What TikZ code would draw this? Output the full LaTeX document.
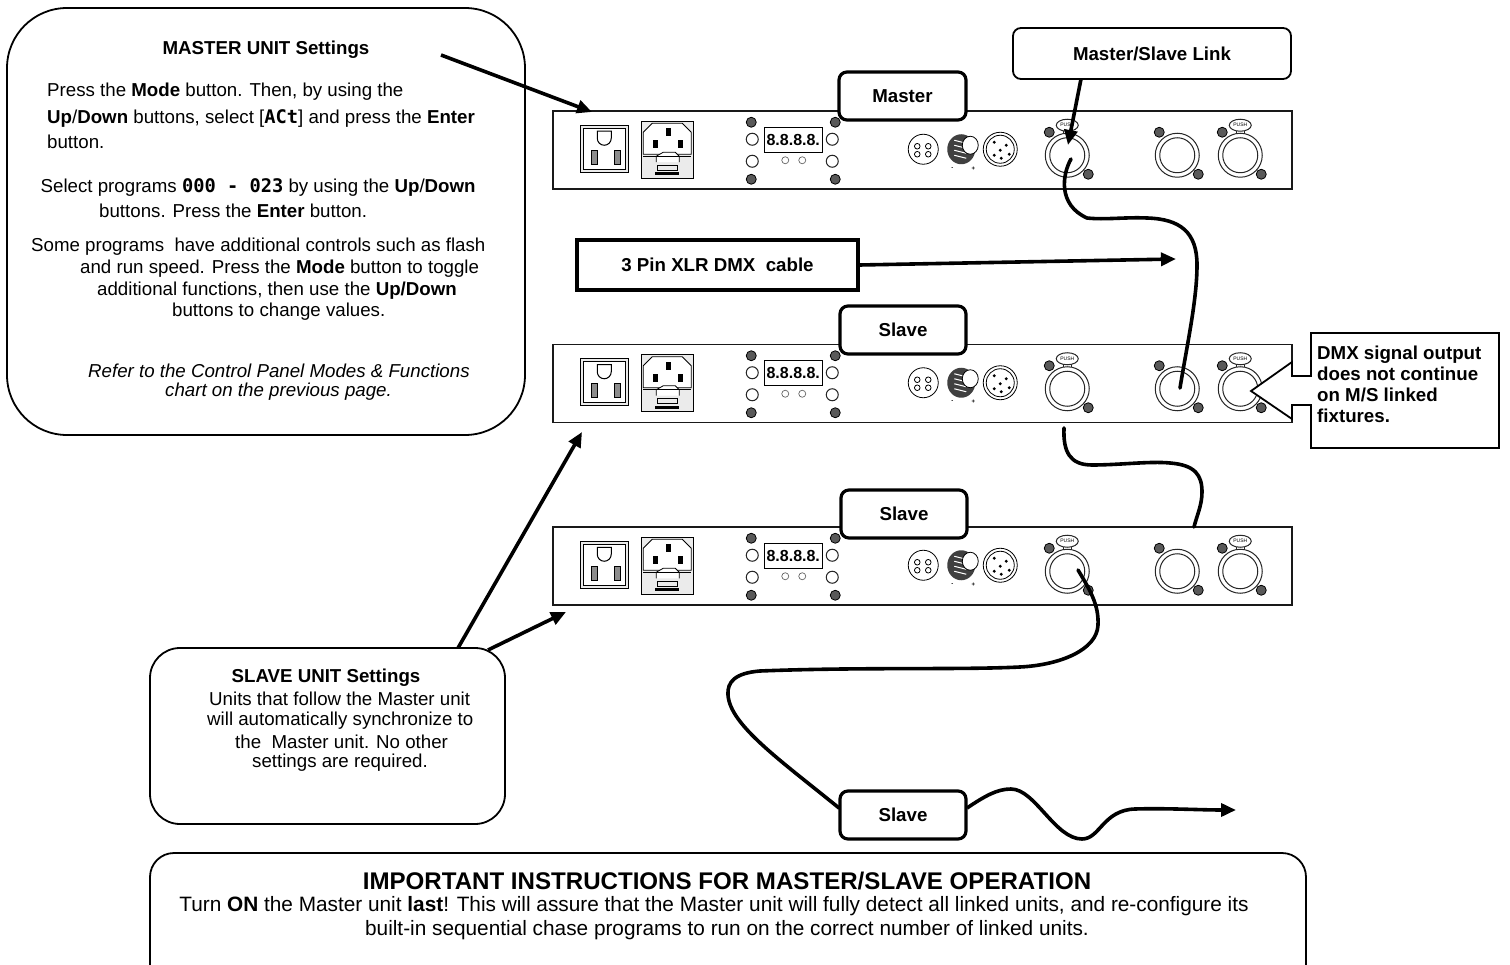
\documentclass[tikz,border=0pt]{standalone}
\usepackage{fontspec}
\setmainfont{Liberation Sans}
\newfontfamily\segfont{DejaVu Sans Mono}
\usetikzlibrary{arrows.meta, positioning}

\newcommand{\bodytext}{\fontsize{18.7}{25}\selectfont}
\newcommand{\segtext}[1]{{\segfont\bfseries #1}}

\tikzset{
  tagbox/.style = {draw, fill=white, line width=3.2pt, rounded corners=8pt, inner sep=0pt,
                   font=\bodytext\bfseries},
  panelbox/.style = {draw=black!90, line width=1.5pt, inner sep=0pt, minimum width=739pt, minimum height=78pt},
  calloutbox/.style = {draw, line width=1.8pt, inner sep=0pt},
  linktip/.style = {-{Triangle[length=15pt,width=13pt]}, line width=3.6pt},
  cable/.style = {line width=3.6pt, line cap=round},
  note/.style = {inner sep=0pt, font=\bodytext, align=left, anchor=west},
  screw/.style = {draw=black, fill=black!65, line width=0.8pt},
  ring/.style = {draw=black!85, line width=1pt, fill=white},
  pics/xlr/.style = {code = {
    \path[ring] (0,0) circle (22);
    \path[ring] (0,0) circle (17.5);
    \path[screw] (-18,-23) circle (5);
    \path[screw] (21,19) circle (5);
  }},
  pics/xlrpush/.style = {code = {
    \path[ring] (-4,-26) -- (-4,-20) (4,-26) -- (4,-20);
    \path[ring] (0,-30) ellipse (11 and 6);
    \node[inner sep=0pt, font=\fontsize{5}{5}\selectfont] (pushlabel) at (0,-30) {PUSH};
    \pic {xlr};
  }},
  pics/fixture/.style = {code = {
    % outlet
    \draw[line width=1pt, fill=black!8] (28,15) rectangle (76,62);
    \draw[line width=0.8pt, fill=white] (31,18) rectangle (73,59);
    \draw[line width=1pt] (45,21) -- (45,28) arc[start angle=180, end angle=0, radius=7] -- (59,21) -- cycle;
    \draw[line width=1pt, fill=black!45] (39,40) rectangle (45,54);
    \draw[line width=1pt, fill=black!45] (62,40) rectangle (68,54);
    % power inlet
    \draw[line width=1pt, fill=black!8] (89,11) rectangle (141,68);
    \draw[line width=0.8pt, fill=white] (91,22) -- (100,13) -- (130,13) -- (139,22) -- (139,44)
      -- (91,44) -- cycle;
    \fill (114,18) rectangle (119,26);
    \fill (101,30) rectangle (106,38);
    \fill (126,30) rectangle (131,38);
    \draw[line width=0.8pt, fill=white] (104,52) -- (104,46) -- (111,42) -- (123,42) -- (127,46) -- (127,52);
    \draw[line width=0.8pt] (91,46) -- (139,46);
    \draw[line width=0.8pt] (105,55) rectangle (125,60);
    \fill (103,62) rectangle (127,65);
    % control panel
    \foreach \px/\py in {199/12, 283/12, 199/69, 283/69}
      \path[screw] (\px,\py) circle (5);
    \foreach \px/\py in {200/29, 200/51, 280/29, 280/51}
      \path[ring] (\px,\py) circle (6);
    \draw[line width=1pt] (212,17) rectangle (270,42);
    \node[inner sep=0pt, font=\fontsize{16}{16}\selectfont\bfseries] (digits) at (241,29.5) {8.8.8.8.};
    \foreach \px in {233,250}
      \draw[black!60, line width=0.7pt] (\px,50) circle (3.5);
    % remote and knob
    \draw[line width=0.8pt] (371,39) circle (15);
    \foreach \px/\py in {365/36, 376/36, 365/44, 376/44}
      \draw[line width=0.8pt] (\px,\py) circle (2.8);
    \fill[black!75] (409,39) ellipse (14 and 15);
    \foreach \py in {30,35,40,45}
      \draw[white, line width=1pt] (402,\py) -- (414,\py+3);
    \draw[line width=0.8pt, fill=white] (418,35) ellipse (8 and 9);
    \node[inner sep=0pt, font=\fontsize{6}{6}\selectfont] (knobminus) at (400,58) {\textbf{-}};
    \node[inner sep=0pt, font=\fontsize{6}{6}\selectfont] (knobplus) at (421,58) {\textbf{+}};
    \draw[line width=0.8pt] (448,39) circle (17);
    \draw[line width=0.8pt] (448,39) circle (14);
    \foreach \px/\py in {442/32, 454/35, 448/40, 442/45, 449/48, 457/44}
      \fill (\px,\py) circle (1.6);
    % xlr sockets
    \pic at (515,45) {xlrpush};
    \pic at (625,45) {xlr};
    \pic at (688,45) {xlrpush};
  }}
}

\begin{document}
\begin{tikzpicture}[x=1pt, y=-1pt]
  \useasboundingbox (0,0) rectangle (1510,965);
  \clip (0,0) rectangle (1510,965);
  \fill[white] (0,0) rectangle (1510,965);

  % fixtures
  \node[panelbox] (panelA) at (922.5,150) {};
  \node[panelbox] (panelB) [below=154pt of panelA] {};
  \node[panelbox] (panelC) [below=103pt of panelB] {};
  \pic (fixA) at (panelA.north west) {fixture};
  \pic (fixB) at (panelB.north west) {fixture};
  \pic (fixC) at (panelC.north west) {fixture};

  % callouts
  \node[calloutbox, rounded corners=60pt, minimum width=518pt, minimum height=427pt] (masterbox) at (266,221.5) {};
  \node[calloutbox, rounded corners=30pt, minimum width=355pt, minimum height=176pt] (slavebox) at (327.5,736) {};
  \node[calloutbox, rounded corners=24pt, minimum width=1156pt, minimum height=140pt] (importantbox) at (728,923) {};

  % master text
  \node[inner sep=0pt, font=\bodytext\bfseries] (mastertitle) at (266,50) {MASTER UNIT Settings};
  \node[note] (masterA) at (47,92) {Press the \textbf{Mode} button. Then, by using the};
  \node[note] (masterB) at (47,119) {\textbf{Up}/\textbf{Down} buttons, select [\segtext{ACt}] and press the \textbf{Enter}};
  \node[note] (masterC) at (47,142) {button.};
  \node[note] (masterD) at (40.5,188) {Select programs \segtext{000 - 023} by using the \textbf{Up}/\textbf{Down}};
  \node[note] (masterE) at (99,211) {buttons. Press the \textbf{Enter} button.};
  \node[note] (masterF) at (31,247) {Some programs\ \ have additional controls such as flash};
  \node[note] (masterG) at (80,269) {and run speed. Press the \textbf{Mode} button to toggle};
  \node[note] (masterH) at (97,291) {additional functions, then use the \textbf{Up/Down}};
  \node[note] (masterI) at (172,312) {buttons to change values.};
  \node[note] (masterJ) at (88,371) {\itshape Refer to the Control Panel Modes \& Functions};
  \node[note] (masterK) at (165,392) {\itshape chart on the previous page.};

  % slave text
  \node[inner sep=0pt, font=\bodytext\bfseries] (slavetitle) at (326,678) {SLAVE UNIT Settings};
  \node[note] (slaveA) at (209,699) {Units that follow the Master unit};
  \node[note] (slaveB) at (207,721) {will automatically synchronize to};
  \node[note] (slaveC) at (235,742) {the\ \ Master unit. No other};
  \node[note] (slaveD) at (252,763) {settings are required.};

  % important text
  \node[inner sep=0pt, font=\fontsize{24.1}{25}\selectfont\bfseries] (importanttitle) at (727,881) {IMPORTANT INSTRUCTIONS FOR MASTER/SLAVE OPERATION};
  \node[inner sep=0pt, font=\fontsize{20.8}{25}\selectfont] (importantA) at (714,906) {Turn \textbf{ON} the Master unit \textbf{last}! This will assure that the Master unit will fully detect all linked units, and re-configure its};
  \node[inner sep=0pt, font=\fontsize{20.8}{25}\selectfont] (importantB) at (727,930) {built-in sequential chase programs to run on the correct number of linked units.};

  % tags
  \node[tagbox, minimum width=127pt, minimum height=48pt] (masterTag) at (902.5,96) {Master};
  \node[tagbox, minimum width=126pt, minimum height=48pt] (slaveTagA) at (903,330) {Slave};
  \node[tagbox, minimum width=126pt, minimum height=48pt] (slaveTagB) at (904,514) {Slave};
  \node[tagbox, minimum width=126pt, minimum height=48pt] (slaveTagC) at (903,815) {Slave};
  \node[calloutbox, fill=white, rounded corners=8pt, font=\bodytext\bfseries,
        minimum width=278pt, minimum height=51pt] (linkTag) at (1152,53.5) {Master/Slave Link};
  \node[draw, fill=white, line width=3.2pt, inner sep=0pt, font=\bodytext\bfseries,
        minimum width=281pt, minimum height=50pt] (cableTag) at (717.5,265) {3 Pin XLR DMX\ \ cable};

  % dmx note
  \draw[fill=white, line width=1.8pt] (1311,333) -- (1499,333) -- (1499,448) -- (1311,448) -- (1311,405)
    -- (1292,405) -- (1292,419) -- (1251,391) -- (1292,362) -- (1292,376) -- (1311,376) -- cycle;
  \node[inner sep=0pt, align=left, anchor=north west, font=\fontsize{18.7}{21}\selectfont\bfseries] (dmxnote)
    at (1317,346) {DMX signal output\\does not continue\\on M/S linked\\fixtures.};

  % free ends
  \coordinate (masterStart) at (441,55);
  \coordinate (masterEnd) at (592,112);
  \coordinate (linkStart) at (1081,79);
  \coordinate (linkEnd) at (1068,145);
  \coordinate (cableEnd) at (1176,259);
  \coordinate (slaveEndA) at (582,432);
  \coordinate (slaveEndB) at (566,612);
  \coordinate (slaveStartA) at (458,648);
  \coordinate (slaveStartB) at (488,650);
  \coordinate (wireIn) at (839,808);
  \coordinate (wireOut) at (967,808);
  \coordinate (wireEnd) at (1236,810);

  \draw[linktip] (masterStart) -- (masterEnd);
  \draw[linktip] (linkStart) -- (linkEnd);
  \draw[linktip] (cableTag.east) -- (cableEnd);
  \draw[linktip] (slaveStartA) -- (slaveEndA);
  \draw[linktip] (slaveStartB) -- (slaveEndB);

  % cables
  \draw[cable] (1071,159) .. controls (1062,175) and (1058,205) .. (1087,218)
    .. controls (1105,220) and (1125,217) .. (1147,218)
    .. controls (1180,219) and (1197,232) .. (1197,265)
    .. controls (1197,300) and (1187,345) .. (1180,388);
  \draw[cable] (1064,428) .. controls (1063,452) and (1070,465) .. (1092,465)
    .. controls (1120,465) and (1150,461) .. (1170,463)
    .. controls (1195,465) and (1202,475) .. (1202,492)
    .. controls (1202,505) and (1197,515) .. (1194,527);
  \draw[cable] (1078,570) .. controls (1090,590) and (1099,605) .. (1098,625)
    .. controls (1097,650) and (1060,665) .. (1020,667)
    .. controls (960,670) and (860,667) .. (760,671)
    .. controls (735,673) and (727,682) .. (728,695)
    .. controls (730,725) and (780,760) .. (wireIn);
  \draw[linktip] (wireOut) .. controls (985,796) and (997,789) .. (1011,789)
    .. controls (1035,789) and (1055,839) .. (1082,839)
    .. controls (1100,839) and (1103,810) .. (1135,809)
    .. controls (1165,808) and (1200,810) .. (wireEnd);
\end{tikzpicture}
\end{document}
